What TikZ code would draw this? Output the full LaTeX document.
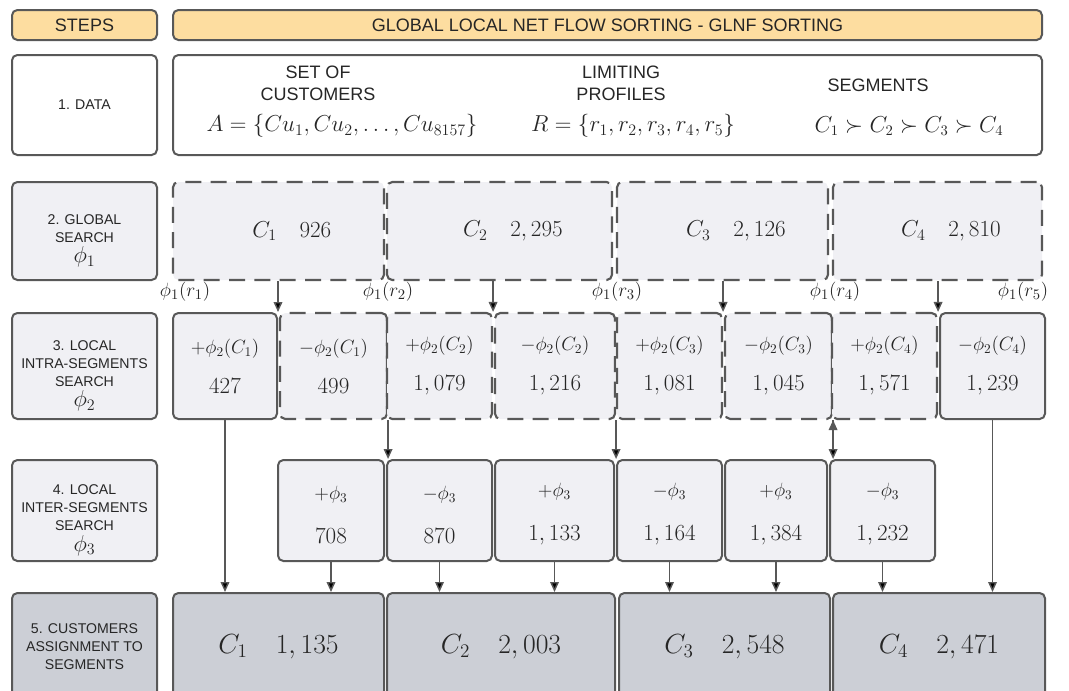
\documentclass[tikz,border=0pt]{standalone}
\usepackage{amsmath, amssymb}
\usepackage{fontspec}
\setsansfont{Liberation Sans}
\usepackage{tikz}
\usetikzlibrary{arrows.meta}

\definecolor{hdrfill}{RGB}{253,221,160}
\definecolor{boxfill}{RGB}{240,240,244}
\definecolor{outfill}{RGB}{204,207,214}
\definecolor{edgegray}{RGB}{88,88,88}

% label line over count line
\newcommand{\segcell}[3][12pt]{{\fontsize{14}{16}\selectfont$#2$}\\[#1]$#3$}
% step name with its phi
\newcommand{\stepphi}[2]{\rule{0pt}{22pt}#1\\[2pt]{\fontsize{17}{17}\selectfont$#2$}}

\begin{document}
\begin{tikzpicture}[x=0.75pt, y=-0.75pt, >={Triangle[length=7.5pt, width=6.5pt]},
    every node/.style={inner sep=0pt, text=black!85},
    cell/.style n args={4}{at={({(#1+#3)/2},{(#2+#4)/2})},
        minimum width={(#3-#1)*0.75pt}, minimum height={(#4-#2)*0.75pt}},
    hdr/.style={draw=edgegray, line width=1.5pt, rounded corners=4pt, fill=hdrfill,
        font=\sffamily\fontsize{13.5}{15}\selectfont},
    stepbox/.style={draw=edgegray, line width=1.5pt, rounded corners=4pt, fill=boxfill,
        align=center, font=\sffamily\fontsize{10.6}{13.5}\selectfont},
    databox/.style={draw=edgegray, line width=1.5pt, rounded corners=4pt, fill=white},
    datatxt/.style={align=center, font=\sffamily\fontsize{13.5}{16.5}\selectfont},
    datamath/.style={font=\fontsize{17}{20}\selectfont},
    gsearch/.style={draw=edgegray, line width=1.6pt, dash pattern=on 12pt off 7pt,
        rounded corners=4pt, fill=boxfill, font=\fontsize{17}{20}\selectfont,
        execute at begin node=\hspace*{20pt}},
    solidbox/.style={draw=edgegray, line width=1.5pt, rounded corners=4pt, fill=boxfill,
        align=center, font=\fontsize{16}{18}\selectfont},
    dashbox/.style={solidbox, line width=1.6pt, dash pattern=on 12pt off 7pt},
    outbox/.style={draw=edgegray, line width=1.5pt, rounded corners=4pt, fill=outfill,
        font=\fontsize{21}{24}\selectfont},
    rlabel/.style={font=\fontsize{15}{18}\selectfont},
    flow/.style={draw=edgegray, line width=1.1pt}]

    \useasboundingbox (0,0) rectangle (1069,690);
    \clip (0,0) rectangle (1069,690);

    % headers
    \node[hdr, cell={12}{10}{157}{40}] (steps) {STEPS};
    \node[hdr, cell={173}{10}{1042}{40}] (title) {GLOBAL LOCAL NET FLOW SORTING - GLNF SORTING};

    % 1. data
    \node[stepbox, fill=white, cell={12}{55}{157}{155}] (s1) {1. DATA};
    \node[databox, cell={173}{55}{1042}{155}] (data) {};
    \node[datatxt] (cust) at (318,83) {SET OF\\CUSTOMERS};
    \node[datamath] (setA) at (342,126) {$A=\{Cu_1,Cu_2,\dots,Cu_{8157}\}$};
    \node[datatxt] (prof) at (621,83) {LIMITING\\PROFILES};
    \node[datamath] (setR) at (633,126) {$R=\{r_1,r_2,r_3,r_4,r_5\}$};
    \node[datatxt] (segs) at (878,85) {SEGMENTS};
    \node[datamath, font=\fontsize{16}{18}\selectfont] (order) at (909,126) {$C_1\succ C_2\succ C_3\succ C_4$};

    % 2. global search
    \node[stepbox, cell={12}{182}{157}{280}] (s2) {\stepphi{2. GLOBAL\\SEARCH}{\phi_1}};
    \node[gsearch, cell={173}{182}{384}{280}] (g1) {$C_1\quad 926$};
    \node[gsearch, cell={387}{182}{612}{280}] (g2) {$C_2\quad 2,295$};
    \node[gsearch, cell={617}{182}{828}{280}] (g3) {$C_3\quad 2,126$};
    \node[gsearch, cell={833}{182}{1042}{280}] (g4) {$C_4\quad 2,810$};
    \node[rlabel] (r1) at (185,292) {$\phi_1(r_1)$};
    \node[rlabel] (r2) at (388,292) {$\phi_1(r_2)$};
    \node[rlabel] (r3) at (617,292) {$\phi_1(r_3)$};
    \node[rlabel] (r4) at (835,292) {$\phi_1(r_4)$};
    \node[rlabel] (r5) at (1023,292) {$\phi_1(r_5)$};

    % 3. local intra-segments search
    \node[stepbox, cell={12}{313}{157}{419}] (s3) {\stepphi{3. LOCAL\\INTRA-SEGMENTS\\SEARCH}{\phi_2}};
    \node[solidbox, cell={173}{313}{277}{419}] (l1) {\segcell{+\phi_2(C_1)}{427}};
    \node[dashbox, cell={280}{313}{387}{419}] (l2) {\segcell{-\phi_2(C_1)}{499}};
    \node[dashbox, cell={387}{313}{492}{419}] (l3) {\segcell{+\phi_2(C_2)}{1,079}};
    \node[dashbox, cell={495}{313}{615}{419}] (l4) {\segcell{-\phi_2(C_2)}{1,216}};
    \node[dashbox, cell={617}{313}{722}{419}] (l5) {\segcell{+\phi_2(C_3)}{1,081}};
    \node[dashbox, cell={725}{313}{832}{419}] (l6) {\segcell{-\phi_2(C_3)}{1,045}};
    \node[dashbox, cell={832}{313}{937}{419}] (l7) {\segcell{+\phi_2(C_4)}{1,571}};
    \node[solidbox, cell={940}{313}{1045}{419}] (l8) {\segcell{-\phi_2(C_4)}{1,239}};

    % 4. local inter-segments search
    \node[stepbox, cell={12}{460}{157}{561}] (s4) {\stepphi{4. LOCAL\\INTER-SEGMENTS\\SEARCH}{\phi_3}};
    \node[solidbox, cell={278}{460}{384}{561}] (m1) {\segcell[15pt]{\rule{0pt}{16pt}{+}\phi_3}{708}};
    \node[solidbox, cell={387}{460}{492}{561}] (m2) {\segcell[15pt]{\rule{0pt}{16pt}{-}\phi_3}{870}};
    \node[solidbox, cell={495}{460}{614}{561}] (m3) {\segcell[15pt]{\rule{0pt}{16pt}{+}\phi_3}{1,133}};
    \node[solidbox, cell={617}{460}{722}{561}] (m4) {\segcell[15pt]{\rule{0pt}{16pt}{-}\phi_3}{1,164}};
    \node[solidbox, cell={725}{460}{827}{561}] (m5) {\segcell[15pt]{\rule{0pt}{16pt}{+}\phi_3}{1,384}};
    \node[solidbox, cell={830}{460}{935}{561}] (m6) {\segcell[15pt]{\rule{0pt}{16pt}{-}\phi_3}{1,232}};

    % 5. assignment
    \node[stepbox, fill=outfill, cell={12}{593}{157}{700}] (s5) {5. CUSTOMERS\\ASSIGNMENT TO\\SEGMENTS};
    \node[outbox, cell={173}{593}{384}{700}] (f1) {$C_1\quad 1,135$};
    \node[outbox, cell={387}{593}{615}{700}] (f2) {$C_2\quad 2,003$};
    \node[outbox, cell={619}{593}{830}{700}] (f3) {$C_3\quad 2,548$};
    \node[outbox, cell={833}{593}{1045}{700}] (f4) {$C_4\quad 2,471$};

    \path[->, flow]
    (l1.north east |- g1.south) edge (l1.north east)
    (l3.north east |- g2.south) edge (l3.north east)
    (l5.north east |- g3.south) edge (l5.north east)
    (l7.north east |- g4.south) edge (l7.north east)
    (l2.south east) edge (l2.south east |- m1.north)
    (l4.south east) edge (l4.south east |- m3.north)
    (l6.south east) edge (l6.south east |- m5.north)
    (l1) edge (l1 |- f1.north)
    (l8) edge (l8 |- f4.north)
    (m1) edge (m1 |- f1.north)
    (m2) edge (m2 |- f2.north)
    (m3) edge (m3 |- f2.north)
    (m4) edge (m4 |- f3.north)
    (m5) edge (m5 |- f3.north)
    (m6) edge (m6 |- f4.north);
\end{tikzpicture}
\end{document}
